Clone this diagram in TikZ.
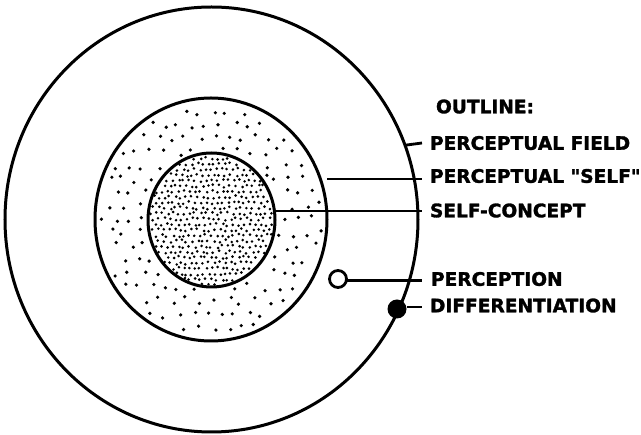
\documentclass[tikz,border=0pt]{standalone}
\usepackage{fontspec}
\newfontfamily\lblfont{DejaVu Sans}[Ligatures=TeXOff,BoldFeatures={FakeBold=1.6}]
\usetikzlibrary{shapes.geometric}
\begin{document}
\begin{tikzpicture}[x=1pt,y=-1pt,
  ring/.style={draw, ellipse, inner sep=0pt, outer sep=0pt, line width=3pt},
  lbl/.style={anchor=west, inner sep=0pt, outer sep=0pt,
    font=\lblfont\bfseries\fontsize{18.6}{20}\selectfont,
    text height=13.6pt, text depth=0pt},
  conn/.style={line width=2.8pt}]
\useasboundingbox (0,0) rectangle (641,435);

% dense stipple of the self-concept
\pgfmathsetseed{7}
\foreach \i in {0,...,23} {
  \foreach \j in {0,...,24} {
    \pgfmathsetmacro\px{148+\i*5.5+mod(\j,2)*2.75+rand*1.5}
    \pgfmathsetmacro\py{153+\j*5.5+rand*1.5}
    \pgfmathtruncatemacro\ok{((\px-211.5)/61.5)^2+((\py-220)/65)^2<1 ? 1 : 0}
    \ifnum\ok=1 \fill (\px,\py) circle[radius=1.45pt]; \fi
  }
}
% sparse stipple of the perceptual self
\foreach \i in {0,...,17} {
  \foreach \j in {0,...,18} {
    \pgfmathsetmacro\px{95+\i*14+mod(\j,2)*7+rand*4}
    \pgfmathsetmacro\py{98+\j*13.5+rand*4}
    \pgfmathtruncatemacro\ok{and(((\px-211)/111)^2+((\py-219.5)/116.5)^2<1, ((\px-211.5)/68)^2+((\py-220)/71.5)^2>1) ? 1 : 0}
    \ifnum\ok=1 \fill (\px,\py) circle[radius=1.8pt]; \fi
  }
}

\node[ring, minimum width=413pt, minimum height=425pt] (outer) at (211.5,219.5) {};
\node[ring, minimum width=232pt, minimum height=243pt] (mid) at (211,219.5) {};
\node[ring, minimum width=127pt, minimum height=134pt] (inner) at (211.5,220) {};
\node[draw, circle, line width=2.8pt, minimum size=17pt, inner sep=0pt, outer sep=0pt] (perc) at (338,279) {};
\node[fill, circle, minimum size=19pt, inner sep=0pt, outer sep=0pt] (diff) at (397,309) {};

\node[lbl] (outline) at (436,106.5) {OUTLINE:};
\node[lbl] (pf) at (430,143) {PERCEPTUAL FIELD};
\node[lbl] (ps) at (430,176) {PERCEPTUAL "SELF"};
\node[lbl] (sc) at (430,210.5) {SELF-CONCEPT};
\node[lbl] (pe) at (431,279) {PERCEPTION};
\node[lbl] (di) at (430,305.5) {DIFFERENTIATION};

\coordinate (pfe) at (422,143);
\coordinate (pse) at (422,179);
\coordinate (sce) at (422,211);
\coordinate (pee) at (422,280.5);
\coordinate (die) at (422,307);

\draw[conn] (outer.21.65) -- (pfe);
\draw[conn] (pse -| mid.east) -- (pse);
\draw[conn] (sce -| inner.east) -- (sce);
\draw[conn] (pee -| perc.east) -- (pee);
\draw[conn] (die -| diff.east) -- (die);
\end{tikzpicture}
\end{document}
